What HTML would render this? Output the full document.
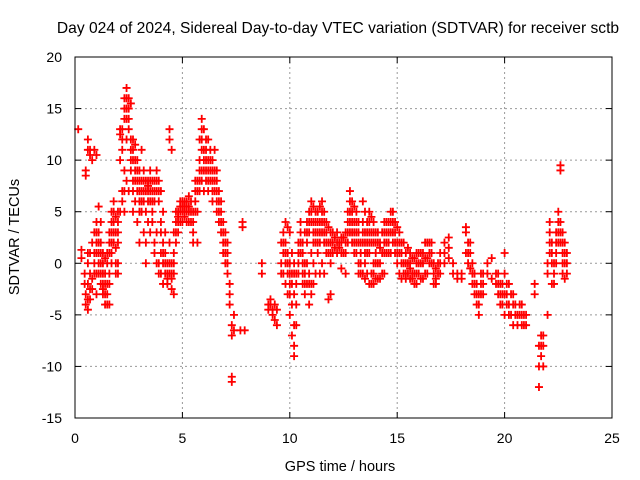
<!DOCTYPE html>
<html><head><meta charset="utf-8"><style>
body{margin:0;background:#fff}
svg{display:block;font-family:"Liberation Sans",sans-serif}
</style></head><body>
<svg id="chart" width="640" height="480">
<text x="338" y="33" font-size="15.6" text-anchor="middle">Day 024 of 2024, Sidereal Day-to-day VTEC variation (SDTVAR) for receiver sctb</text>
<text x="340" y="471" font-size="14.5" text-anchor="middle">GPS time / hours</text>
<text transform="translate(19,237) rotate(-90)" font-size="14.5" text-anchor="middle">SDTVAR / TECUs</text>
<g id="grid"></g>
<g id="marks"></g>
<rect x="75" y="57" width="537" height="361" fill="none" stroke="#000"/>
</svg>
<script>
const xTicks=[0,5,10,15,20,25];
const yTicks=[-15,-10,-5,0,5,10,15,20];
const hours=[0.15,0.3,0.45,0.5,0.6,0.7,0.8,0.9,1.0,1.1,1.2,1.3,1.4,1.5,1.6,1.7,1.8,1.9,2.0,2.1,2.2,2.3,2.4,2.5,2.6,2.7,2.8,2.9,3.0,3.1,3.2,3.3,3.4,3.5,3.6,3.7,3.8,3.9,4.0,4.1,4.2,4.3,4.4,4.5,4.6,4.7,4.8,4.9,5.0,5.1,5.2,5.3,5.4,5.5,5.6,5.7,5.8,5.9,6.0,6.1,6.2,6.3,6.4,6.5,6.6,6.7,6.8,6.9,7.0,7.1,7.2,7.3,7.4,7.7,7.8,7.9,8.7,9.0,9.1,9.2,9.3,9.4,9.6,9.7,9.8,9.9,10.0,10.1,10.2,10.3,10.4,10.5,10.6,10.7,10.8,10.9,11.0,11.1,11.2,11.3,11.4,11.5,11.6,11.7,11.8,11.9,12.0,12.1,12.2,12.3,12.4,12.5,12.6,12.7,12.8,12.9,13.0,13.1,13.2,13.3,13.4,13.5,13.6,13.7,13.8,13.9,14.0,14.1,14.2,14.3,14.4,14.5,14.6,14.7,14.8,14.9,15.0,15.1,15.2,15.3,15.4,15.5,15.6,15.7,15.8,15.9,
16.0,16.1,16.2,16.3,16.4,16.5,16.6,16.7,16.8,16.9,17.0,17.2,17.4,17.6,17.8,18.0,18.2,18.3,18.4,18.5,18.6,18.7,18.8,18.9,19.0,19.2,19.4,19.6,19.7,19.8,19.9,20.0,20.1,20.2,20.3,20.4,20.5,20.6,20.7,20.8,20.9,21.0,21.4,21.6,21.7,21.8,22.0,22.1,22.2,22.3,22.4,22.5,22.6,22.7,22.8,22.9];
const values=[[13],[1.3,0.5],[-1,-2],[8.5,9,-3,-4],[12,11,-4.5,-3.5,-2,0,1],[11,10.5,-3.5,-2.5,-1,1],[10,2,-2.5,-1.5],[11,3,1,0,-1],[10.5,4,3,2,1,-1,-3],[5.5,3,2,0,-1,1],[4,2,1,0,-1,-2],[1,0,-1,-2,-2.5,-3],[-2,-3,-1,0.5,-4],[-3,-4,-2,0,1],[-4,-2,-1,1,2,3],[3,2,0,1,4,5],[6,2,3,4,5],[4.5,1.5,0,3,-1],[4,5,2,3,0,-1],[5,12.5,10,13],[13,11,7,6,12],[15,16,9,5,14,7],[17,16,15,14,8,12],[16,15,13,14,7],[15.5,12,9,11,10],[12,10,11,7,5,8],[11.5,10,8,9,6],[10,9,7,8,4],[9,8,7,6,5,2],[8,7,11,6,5],[9,8,7,6,3],[8,7,5,2,0],[7.5,8,7,4,6],[8,6,9,7,3],[7,5,8,6,4],[8,7,6,2,1],[7,9,8,3,0],[6,8,7,0,-1],[4,7,3,-1,1],[5,2,-2,0,1],[1,0,3,-1],[-1,-2,0,-1.5],[12,13,-1,2,0],[11,-1.5,0,-1,-2.5],[1,-1,-3,3,0],[2,4,5,3],[4,5,3,4.5],[5,6,4,5.5],[6,5,4,5.5],[5.5,4.5,6,5],[6,5,4,5.5],[5,6.5,4,5.5],[6,4,5],[5,3,2,4],[8,7,6,5],[2,5,8,7],[10,12,7,9,8],[14,13,12,11,8,9],[13,10,11,9,7],[12,11,10,8,9],[9,10,7,12,8],[9,8,11,10],[10,8,9,6,7],[11,8,7,9],[9,7,8,5,6],[7,6,4,5],[6,5,3,4],[4,3,1,2],[3,2,0,1],[2,1,-1,0],[-2,-4,-3],[-6,-7,-11,-11.5],[-6.5,-5],[-6.5],[4,3.5],[-6.5],[0,-1],[-4,-4.5],[-3.5,-4],[-4.5,-5],[-4,-5.5],[-4.5,-6],[2,0,-1],[3,1,-1,2],[4,2,0,-2,1],[3.5,1,-1,-3,0],[3,0,-2,-5,-1,-3],[1,-1,-4,-7,-2],[0,-3,-6,-8,-9,-1],[-1,-4,-6,-2],[2,1,0,-1],[3,2,4,1],[2,-1,-2,0,1],[3,0,-3,-2,-1],[4,2,-2,3,0],[5,3,-1,-4,4,-2],[6,4,1,-3,5,-2],[5.5,3,0,-2,4,2],[5,2,-1,4,3],[4,3,1,2,5],[5.5,4,2,-1,3],[6,3,0,4,5],[5,2,-1,4,3],[4,3,1,2],[3.5,1,-3.5,2],[3,0,-3,2,1],[2,1,3],[2.5,1.5],[3,2,1],[2,1.5],[2.5,1,-0.5,2],[2.5,1],[3,2,-1,1],[5,4,3,2],[6,7,4,5,3],[6,5,3,4,2],[5.5,4,2,3,1],[5,3,1,2,4],[4,2,0,-1,3],[2,1,-1,0],[6,4,2,-1,3],[5,3,0,-1.5,1,2],[4,2,-1,1,3],[5,3,1,-2,4,2],[4.5,2,-2,3,-1],[4,2,0,-2,3,-1],[3,1,-1.5,2,0],[3,2,0,-1.5],[2,1.5,-1.5,0],[3,1,-1],[4,2,1,-1,3],[4,3,1,2],[3,2,1,4],[5,3,1,4],[5,3,2,4],[4,2,1,3],[3.5,2,0,1],[3,1,-1,2],[2,0,-1.5,1],[2,0,-1],[1,0,-1,-1.5],[1.5,0,-1],[1,0,-1.5,-0.5],[0.5,-1,-1.5],[0.5,-1,-2],[1,-1,-2,0],
[1,0,-1],[1,0,-1.5],[1,0,-1.5],[2,0.5,-1],[2,0.5,-1],[2,1,0],[2,1,0],[0,-1,-2],[-0.5,-1.5,-2],[0,-1],[1,0,-1],[2,1,0],[2.5,1.5,0.5],[-1,0],[-1,-1.5],[-1.5,-1],[3.5,3,1],[2,1,0],[2,1,-0.5],[0,-1,-2],[-1,-2,-3],[-2,-3,-4],[-3,-4,-5],[-3,-2,-1],[-2,-3,-1],[0,-1],[0.5,-1.5],[-1,-2],[-1,-2,-3],[-2,-3,-4],[-3,-4,-2],[1,-1,-3,-5],[-2,-3,-4],[-2,-4,-5],[-3,-5],[-3,-4,-6],[-4,-5],[-5,-6],[-4,-5],[-4,-5,-6],[-5,-6],[-5,-6],[-2,-3],[-8,-10,-12],[-7,-8,-9],[-7,-8,-10],[-1,0,-5],[1,4,3,2],[2,0,-2,1],[-1,-2,0],[1,2,3,0],[3,4,5,2],[4,9.5,9,3,2],[3,1,-1,2,0],[2,0,-1.5,1],[1,-1,0]];
const NS='http://www.w3.org/2000/svg';
const X0=75,X1=612,Y0=418,Y1=57;
function xs(h){return X0+(h-0)/(25-0)*(X1-X0);}
function ys(v){return Y0-(v+15)/(20+15)*(Y0-Y1);}
const grid=document.getElementById('grid');
function mk(tag,attrs,parent){const e=document.createElementNS(NS,tag);for(const k in attrs)e.setAttribute(k,attrs[k]);parent.appendChild(e);return e;}
xTicks.forEach(t=>{
  const x=xs(t);
  if(t>0&&t<25){const l=mk('line',{x1:x,x2:x,y1:Y1,y2:Y0,stroke:'#999','stroke-dasharray':'2,3'},grid);
  
  }
  mk('line',{x1:x,x2:x,y1:Y0,y2:Y0-6,stroke:'#000'},grid);
  mk('line',{x1:x,x2:x,y1:Y1,y2:Y1+6,stroke:'#000'},grid);
  const tx=mk('text',{x:x,y:443,'font-size':'14','text-anchor':'middle'},grid);tx.textContent=t;
  
  
});
yTicks.forEach(t=>{
  const y=ys(t);
  if(t>-15&&t<20){const l=mk('line',{x1:X0,x2:X1,y1:y,y2:y,stroke:'#999','stroke-dasharray':'2,3'},grid);
  
  }
  mk('line',{x1:X0,x2:X0+6,y1:y,y2:y,stroke:'#000'},grid);
  mk('line',{x1:X1,x2:X1-6,y1:y,y2:y,stroke:'#000'},grid);
  const tx=mk('text',{x:62,y:y+5,'font-size':'14','text-anchor':'end'},grid);tx.textContent=t;
  
  
});
const marks=document.getElementById('marks');
hours.forEach((h,i)=>{
  const vals=values[i]||[];
  vals.forEach(v=>{
    const x=xs(h),y=ys(v);
    const p=mk('path',{d:`M${x-4},${y}H${x+4}M${x},${y-4}V${y+4}`,stroke:'#f00','stroke-width':'1.8',fill:'none'},marks);
    
    
  });
});
</script>
</body></html>
